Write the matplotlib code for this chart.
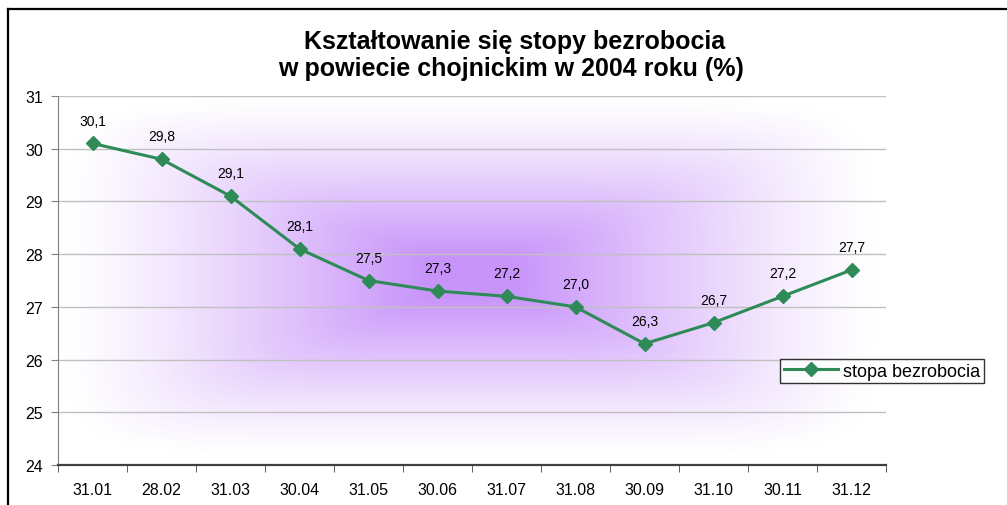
import numpy as np
import matplotlib
matplotlib.use("Agg")
import matplotlib.pyplot as plt
from matplotlib.lines import Line2D

categories = ["31.01", "28.02", "31.03", "30.04", "31.05", "30.06",
              "31.07", "31.08", "30.09", "31.10", "30.11", "31.12"]
values = [30.1, 29.8, 29.1, 28.1, 27.5, 27.3, 27.2, 27.0, 26.3, 26.7, 27.2, 27.7]
labels = ["30,1", "29,8", "29,1", "28,1", "27,5", "27,3", "27,2", "27,0",
          "26,3", "26,7", "27,2", "27,7"]
yticks = [24, 25, 26, 27, 28, 29, 30, 31]

plt.rcParams['font.family'] = ['Liberation Sans', 'DejaVu Sans']

W, H = 1007, 506
fig = plt.figure(figsize=(W/100, H/100), dpi=100)
fig.patch.set_facecolor('white')

# frame lines (top and left)
fig.add_artist(Line2D([8/W, 1.0], [1-10/H, 1-10/H], color='black', lw=1.6, transform=fig.transFigure))
fig.add_artist(Line2D([8/W, 8/W], [0, 1-10/H], color='black', lw=1.6, transform=fig.transFigure))

ax = fig.add_axes([58/W, 1-466/H, (886-58)/W, (466-97)/H])
ax.set_facecolor('white')

# background gradient (rectangular path glow)
nx, ny = 600, 300
xs = np.linspace(0, 1, nx)
ys = np.linspace(0, 1, ny)
X, Y = np.meshgrid(xs, ys)
cx, cy = (470-58)/828, (466-278)/369
hx, hy = 405/828, 178/369
u = np.abs(X-cx)/hx
v = np.abs(Y-cy)/hy
p = 7.0
t = (u**p + v**p)**(1/p)
a = np.clip(1 - t, 0, 1)
a = a**1.2
a = np.clip(a*1.15, 0, 1)
center = np.array([200, 148, 250])/255.0
img = np.ones((ny, nx, 3))*(1-a[..., None]) + center*a[..., None]
ax.imshow(img, extent=[0, 1, 0, 1], transform=ax.transAxes, origin='lower',
          aspect='auto', zorder=0, interpolation='bilinear')

x = np.arange(len(categories))
ax.plot(x, values, color='#2E8B57', lw=2.2, marker='D', markersize=7,
        markerfacecolor='#2E8B57', markeredgecolor='#2E8B57', zorder=3,
        label='stopa bezrobocia')
for xi, yi, lb in zip(x, values, labels):
    ax.annotate(lb, (xi, yi), xytext=(0, 16.5), textcoords='offset points',
                ha='center', va='center', fontsize=10, color='black', zorder=4)

ax.set_xlim(-0.5, len(categories)-0.5)
ax.set_ylim(24, 31)
ax.set_yticks(yticks)
ax.set_yticklabels([str(t) for t in yticks], fontsize=11.5)
ax.set_xticks(x)
ax.set_xticklabels(categories, fontsize=11.5)
ax.tick_params(axis='x', length=0, pad=12)
ax.set_xticks(np.arange(-0.5, len(categories), 1), minor=True)
ax.tick_params(axis='x', which='minor', length=5, direction='out', color='#404040')
ax.tick_params(axis='y', length=5, direction='out', color='#808080', pad=6)

ax.grid(axis='y', color='#c0c0c0', lw=1, zorder=1)
ax.set_axisbelow(True)
for s in ['top', 'right']:
    ax.spines[s].set_visible(False)
ax.spines['left'].set_color('#808080')
ax.spines['bottom'].set_color('#404040')
ax.spines['bottom'].set_linewidth(1.6)

fig.text(515/W, 1-42/H, "Kształtowanie się stopy bezrobocia", ha='center', va='center',
         fontsize=18, fontweight='bold')
fig.text(511/W, 1-69/H, "w powiecie chojnickim w 2004 roku (%)", ha='center', va='center',
         fontsize=18, fontweight='bold')

leg = fig.legend(loc='upper left', bbox_to_anchor=(780/W, 1-360/H), fontsize=13,
                 frameon=True, fancybox=False, edgecolor='black', handlelength=3,
                 borderpad=0.2, handletextpad=0.3, borderaxespad=0)
leg.get_frame().set_linewidth(1.0)

fig.savefig('out.png', dpi=100, facecolor='white')
